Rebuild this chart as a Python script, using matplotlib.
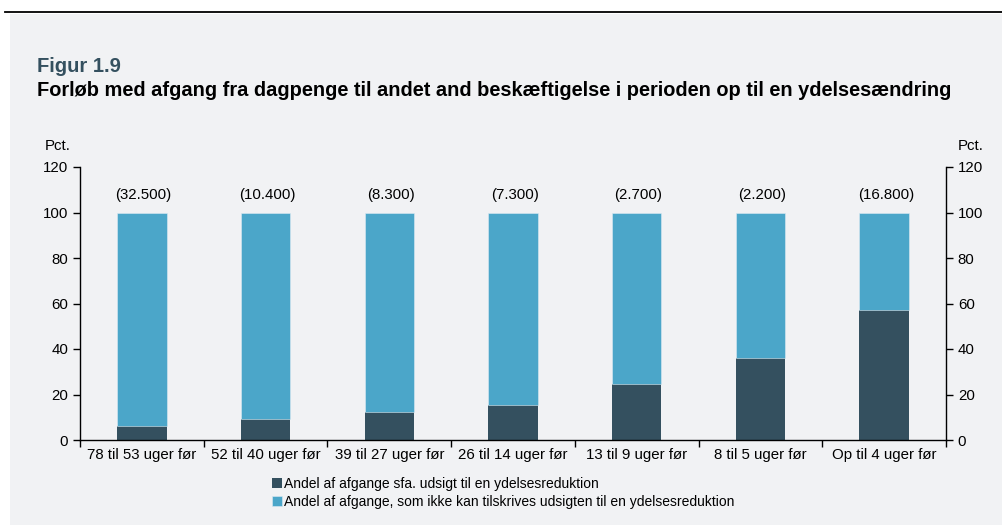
import matplotlib
matplotlib.use("Agg")
import matplotlib.pyplot as plt
from matplotlib.patches import Rectangle
from matplotlib.lines import Line2D
import numpy as np

plt.rcParams['font.family'] = ['Liberation Sans', 'DejaVu Sans']

categories = ["78 til 53 uger før", "52 til 40 uger før", "39 til 27 uger før",
              "26 til 14 uger før", "13 til 9 uger før", "8 til 5 uger før", "Op til 4 uger før"]
andel_sfa = [6.0, 9.2, 12.3, 15.5, 24.7, 36.2, 57.3]
andel_ikke = [100 - v for v in andel_sfa]
antal_labels = ["(32.500)", "(10.400)", "(8.300)", "(7.300)", "(2.700)", "(2.200)", "(16.800)"]
series_names = ["Andel af afgange sfa. udsigt til en ydelsesreduktion",
                "Andel af afgange, som ikke kan tilskrives udsigten til en ydelsesreduktion"]
yticks = [0, 20, 40, 60, 80, 100, 120]

dark = "#34505F"
light = "#4BA6C9"
bg = "#F1F2F4"

fig = plt.figure(figsize=(10.03, 5.25), dpi=100)
fig.patch.set_facecolor("white")
fig.patches.append(Rectangle((10/1003, 0), 1 - 10/1003, 1 - 14/525, transform=fig.transFigure,
                             facecolor=bg, edgecolor="none", zorder=-10))
fig.lines.append(Line2D([5/1003, 1], [1 - 12/525, 1 - 12/525], transform=fig.transFigure,
                        color="black", lw=1.3))

fig.text(37/1003, 1 - 66/525, "Figur 1.9", color=dark, fontsize=14.5, fontweight="bold", va="center")
fig.text(37/1003, 1 - 91/525,
         "Forløb med afgang fra dagpenge til andet and beskæftigelse i perioden op til en ydelsesændring",
         color="black", fontsize=14.4, fontweight="bold", va="center")

ax = fig.add_axes([80/1003, 1 - 440/525, (946 - 80)/1003, (440 - 167)/525])
ax.set_facecolor(bg)
x = np.arange(len(categories))
w = 0.4
ax.bar(x, andel_sfa, width=w, color=dark, label=series_names[0], zorder=2)
ax.bar(x, andel_ikke, width=w, bottom=andel_sfa, color=light, label=series_names[1], zorder=2,
       edgecolor="#DCEBF2", linewidth=0.4)
for xi, lab in zip(x, antal_labels):
    ax.text(xi + 0.015, 107.7, lab, ha="center", va="center", fontsize=10.8)

ax.set_xlim(-0.5, len(categories) - 0.5)
ax.set_ylim(0, 120)
ax.set_yticks(yticks)
ax.set_xticks(x)
ax.set_xticklabels(categories, fontsize=10.8)
ax.tick_params(axis="x", length=0, pad=6)
ax.set_xticks(np.arange(-0.5, len(categories) + 0.5, 1), minor=True)
ax.tick_params(axis="x", which="minor", length=5, direction="out", width=1)
ax.tick_params(axis="y", which="both", left=True, right=True, labelleft=True, labelright=True,
               length=5, direction="out", labelsize=10.8, width=1)
for s in ["top"]:
    ax.spines[s].set_visible(False)
for s in ["left", "right", "bottom"]:
    ax.spines[s].set_linewidth(1)

fig.text(45/1003, 1 - 146/525, "Pct.", fontsize=10.8, ha="left", va="center")
fig.text(958/1003, 1 - 146/525, "Pct.", fontsize=10.8, ha="left", va="center")

handles, labels = ax.get_legend_handles_labels()
leg = fig.legend(handles, labels, loc="upper left", bbox_to_anchor=(272/1003, 1 - 477/525),
                 frameon=False, fontsize=10, handlelength=0.7, handleheight=0.7,
                 handletextpad=0.15, labelspacing=0.3, borderpad=0, borderaxespad=0)

fig.savefig("out.png", dpi=100, facecolor=fig.get_facecolor())
